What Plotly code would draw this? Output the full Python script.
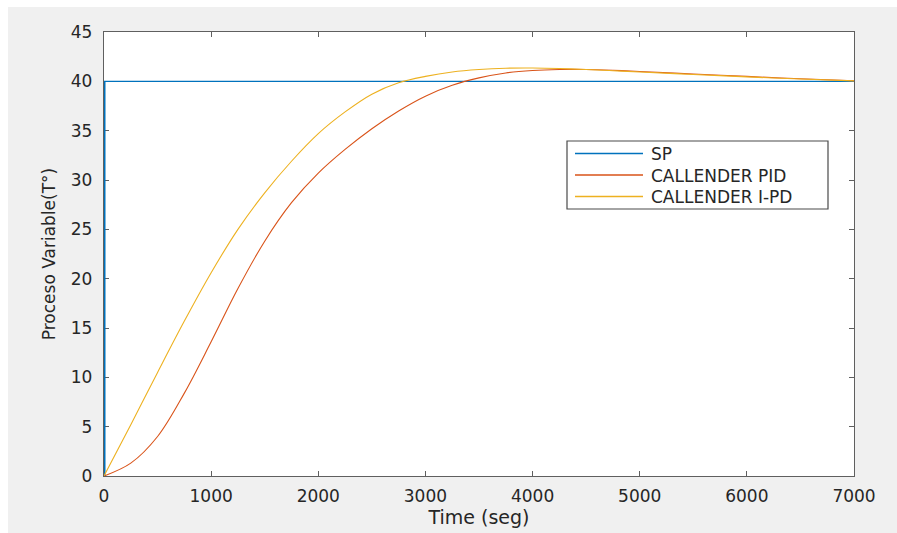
import plotly.graph_objects as go

# Simulation time (s)
time_s = [0, 250, 500, 750, 1000, 1250, 1500, 1750, 2000, 2250, 2500, 2750, 3000,
          3250, 3500, 3750, 4000, 4250, 4500, 4750, 5000, 5500, 6000, 6500, 7000]

# Process variable responses (°C)
callender_pid = [0, 1.3, 4.0, 8.4, 13.6, 19.0, 23.8, 27.7, 30.7, 33.1, 35.2, 37.0, 38.5,
                 39.6, 40.35, 40.85, 41.1, 41.2, 41.2, 41.12, 41.0, 40.75, 40.5, 40.26, 40.06]
callender_ipd = [0, 5.2, 10.5, 15.7, 20.6, 25.0, 28.7, 31.9, 34.7, 36.9, 38.7, 39.85, 40.5,
                 40.95, 41.2, 41.33, 41.35, 41.3, 41.2, 41.08, 40.95, 40.7, 40.45, 40.23, 40.05]

# Set point step
sp_time = [0, 0, 7000]
sp_value = [0, 40, 40]

series_names = ["SP", "CALLENDER PID", "CALLENDER I-PD"]
series_colors = ["#0072BD", "#D95319", "#EDB120"]

x_ticks = [0, 1000, 2000, 3000, 4000, 5000, 6000, 7000]
y_ticks = [0, 5, 10, 15, 20, 25, 30, 35, 40, 45]

W, H = 897, 533
L, R, T, B = 104, 43, 32, 57
PW, PH = W - L - R, H - T - B


def px_x(p):
    return (p - L) / PW


def px_y(p):
    return (H - B - p) / PH


FONT = "DejaVu Sans"
TXT = "#262626"
AX = "#5f5f5f"

fig = go.Figure()
# step set point: the vertical edge at t=0 sits on the left axis
fig.add_trace(go.Scatter(x=sp_time, y=sp_value, mode="lines", name=series_names[0],
                         line=dict(color=series_colors[0], width=1.1), showlegend=False))
fig.add_trace(go.Scatter(x=sp_time[:2], y=sp_value[:2], mode="lines", hoverinfo="skip",
                         line=dict(color=series_colors[0], width=3), showlegend=False))
fig.add_trace(go.Scatter(x=time_s, y=callender_pid, mode="lines", name=series_names[1],
                         line=dict(color=series_colors[1], width=1.1, shape="spline"),
                         showlegend=False))
fig.add_trace(go.Scatter(x=time_s, y=callender_ipd, mode="lines", name=series_names[2],
                         line=dict(color=series_colors[2], width=1.1, shape="spline"),
                         showlegend=False))

axis_common = dict(
    showgrid=False, zeroline=False, showline=True, linecolor=AX, linewidth=1.3,
    mirror="allticks", ticks="inside", ticklen=5, tickwidth=1.3, tickcolor=AX,
    tickfont=dict(family=FONT, size=17, color=TXT), layer="below traces",
)

fig.update_xaxes(range=[0, 7000], tickvals=x_ticks, ticklabelstandoff=4,
                 title=dict(text="Time (seg)", font=dict(family=FONT, size=19, color=TXT),
                            standoff=6),
                 **axis_common)
fig.update_yaxes(range=[0, 45], tickvals=y_ticks, ticklabelstandoff=7,
                 title=dict(text="Proceso Variable(T°)", font=dict(family=FONT, size=17, color=TXT),
                            standoff=10),
                 **axis_common)

shapes = []
# thin white band along the top and left edges of the figure
shapes.append(dict(type="rect", xref="paper", yref="paper", x0=-0.3, x1=1.2,
                   y0=px_y(7), y1=1.2, fillcolor="white", line=dict(width=0), layer="above"))
shapes.append(dict(type="rect", xref="paper", yref="paper", x0=-0.3, x1=px_x(8),
                   y0=-0.3, y1=1.2, fillcolor="white", line=dict(width=0), layer="above"))

# legend box
shapes.append(dict(type="rect", xref="paper", yref="paper",
                   x0=px_x(567), x1=px_x(828), y0=px_y(209), y1=px_y(141),
                   fillcolor="white", line=dict(color="#4a4a4a", width=1.2), layer="above"))
row_y = [153.5, 175, 196.5]
annotations = []
for name, color, ry in zip(series_names, series_colors, row_y):
    shapes.append(dict(type="line", xref="paper", yref="paper",
                       x0=px_x(575), x1=px_x(643), y0=px_y(ry), y1=px_y(ry),
                       line=dict(color=color, width=1.4), layer="above"))
    annotations.append(dict(xref="paper", yref="paper", x=px_x(649), y=px_y(ry + 0.5),
                            xanchor="left", yanchor="middle", text=name, showarrow=False,
                            font=dict(family=FONT, size=17, color=TXT)))

fig.update_layout(
    width=W, height=H,
    margin=dict(l=L, r=R, t=T, b=B, autoexpand=False),
    paper_bgcolor="#f0f0f0", plot_bgcolor="white",
    shapes=shapes, annotations=annotations,
    showlegend=False,
)

fig.write_html("out.html")
